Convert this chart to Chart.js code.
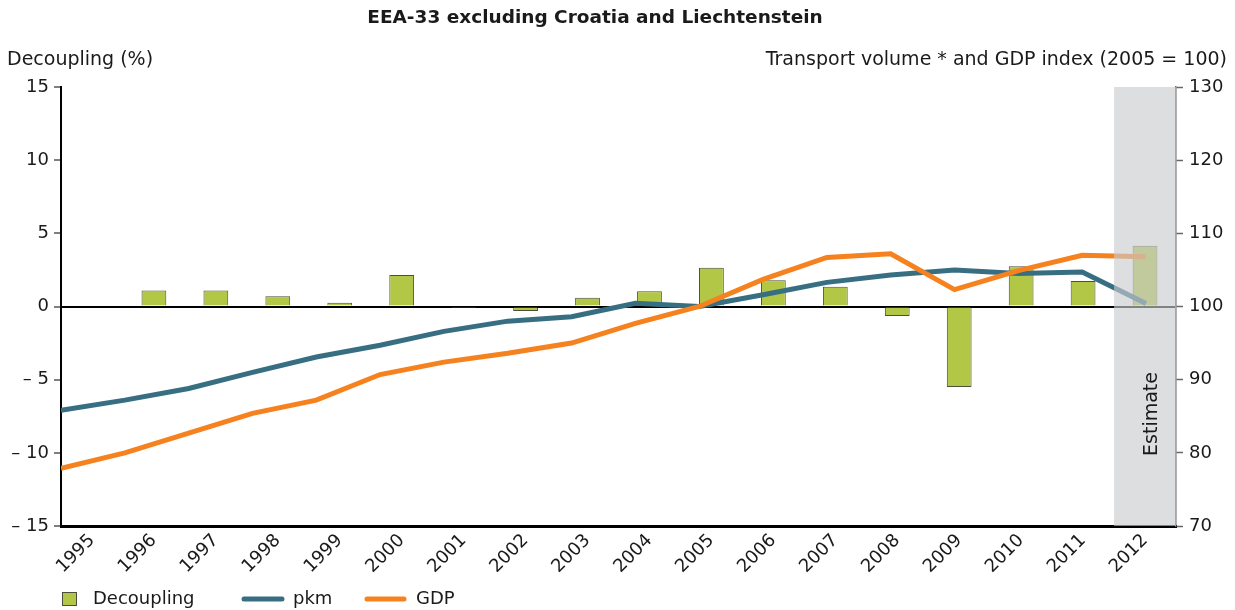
<!DOCTYPE html>
<html>
<head>
<meta charset="utf-8">
<script src="https://cdn.jsdelivr.net/npm/chart.js@4.4.1/dist/chart.umd.min.js"></script>
<style>
  html, body { margin: 0; padding: 0; background: #fff; }
  #wrap { width: 1235px; height: 610px; }
</style>
</head>
<body>
<div id="wrap"><canvas id="decouplingChart" width="1235" height="610"></canvas></div>
<script>
// years on the x axis, 2012 is an estimate
const years = [1995, 1996, 1997, 1998, 1999, 2000, 2001, 2002, 2003, 2004,
               2005, 2006, 2007, 2008, 2009, 2010, 2011, 2012];
// decoupling (%) - left axis
const decoupling = [null, 1.1, 1.1, 0.7, 0.25, 2.15, -0.1, -0.3, 0.6, 1.05,
                    2.65, 1.8, 1.35, -0.65, -5.5, 2.75, 1.75, 4.15];
// index 2005 = 100 - right axis
const pkm = [85.8, 87.2, 88.8, 91.0, 93.1, 94.7, 96.6, 98.0, 98.6, 100.45,
             100.0, 101.6, 103.3, 104.3, 105.0, 104.5, 104.7, 100.4];
const gdp = [77.9, 80.0, 82.7, 85.4, 87.2, 90.7, 92.4, 93.6, 95.0, 97.7,
             100.0, 103.7, 106.7, 107.2, 102.3, 104.9, 107.0, 106.8];
const leftTicks = [-15, -10, -5, 0, 5, 10, 15];
const rightTicks = [70, 80, 90, 100, 110, 120, 130];
const estimateYear = 2012;

const FONT = "'DejaVu Sans', Verdana, sans-serif";
const GREEN = '#b1c745';
const TEAL = '#376e82';
const ORANGE = '#f5821f';

// gray "Estimate" band painted over the last category, plus titles and legend
const extras = {
  id: 'extras',
  afterDatasetsDraw(chart) {
    const { ctx, chartArea, scales } = chart;
    const xs = scales.x;
    const idx = years.indexOf(estimateYear);
    const half = (xs.getPixelForValue(1) - xs.getPixelForValue(0)) / 2;
    const left = xs.getPixelForValue(idx) - half;
    ctx.save();
    ctx.fillStyle = 'rgba(201,203,206,0.64)';
    ctx.fillRect(left, chartArea.top, chartArea.right - left, chartArea.bottom - chartArea.top);
    ctx.translate(left + (chartArea.right - left) / 2 + 7, 414);
    ctx.rotate(-Math.PI / 2);
    ctx.fillStyle = '#1a1a1a';
    ctx.font = '19px ' + FONT;
    ctx.textAlign = 'center';
    ctx.textBaseline = 'middle';
    ctx.fillText('Estimate', 0, 0);
    ctx.restore();
  },
  afterDraw(chart) {
    const { ctx } = chart;
    ctx.save();
    ctx.fillStyle = '#1a1a1a';
    ctx.textBaseline = 'middle';

    ctx.font = 'bold 18.5px ' + FONT;
    ctx.textAlign = 'center';
    ctx.fillText('EEA-33 excluding Croatia and Liechtenstein', 595, 18);

    ctx.font = '19px ' + FONT;
    ctx.textAlign = 'left';
    ctx.fillText('Decoupling (%)', 7, 60);
    ctx.textAlign = 'right';
    ctx.fillText('Transport volume * and GDP index (2005 = 100)', 1227, 60);

    // legend
    const ly = 599;
    ctx.font = '18px ' + FONT;
    ctx.textAlign = 'left';
    ctx.fillStyle = GREEN;
    ctx.fillRect(62, ly - 7, 15, 14);
    ctx.strokeStyle = '#4d4d3a';
    ctx.lineWidth = 1;
    ctx.strokeRect(62.5, ly - 6.5, 14, 13);
    ctx.fillStyle = '#1a1a1a';
    ctx.fillText(chart.data.datasets[0].label, 93, ly);

    ctx.lineCap = 'round';
    ctx.lineWidth = 5;
    ctx.strokeStyle = TEAL;
    ctx.beginPath(); ctx.moveTo(244, ly); ctx.lineTo(282, ly); ctx.stroke();
    ctx.fillText(chart.data.datasets[1].label, 293, ly);

    ctx.strokeStyle = ORANGE;
    ctx.beginPath(); ctx.moveTo(367, ly); ctx.lineTo(404, ly); ctx.stroke();
    ctx.fillText(chart.data.datasets[2].label, 416, ly);
    ctx.restore();
  }
};

const ctx = document.getElementById('decouplingChart').getContext('2d');

const chart = new Chart(ctx, {
  type: 'bar',
  data: {
    labels: years.map(String),
    datasets: [
      {
        label: 'Decoupling',
        data: decoupling,
        backgroundColor: GREEN,
        borderColor: '#4d4d3a',
        borderWidth: 1,
        categoryPercentage: 1,
        barPercentage: 0.4,
        grouped: false,
        yAxisID: 'y',
        xAxisID: 'x',
        order: 2
      },
      {
        type: 'line',
        label: 'pkm',
        data: years.map((y, i) => ({ x: y, y: pkm[i] })),
        borderColor: TEAL,
        borderWidth: 5,
        pointRadius: 0,
        tension: 0,
        yAxisID: 'y2',
        xAxisID: 'xl',
        order: 1
      },
      {
        type: 'line',
        label: 'GDP',
        data: years.map((y, i) => ({ x: y, y: gdp[i] })),
        borderColor: ORANGE,
        borderWidth: 5,
        pointRadius: 0,
        tension: 0,
        yAxisID: 'y2',
        xAxisID: 'xl',
        order: 0
      }
    ]
  },
  options: {
    responsive: false,
    animation: false,
    layout: { padding: { top: 87, left: 0, right: 0, bottom: 0 } },
    plugins: {
      legend: { display: false },
      tooltip: { enabled: false },
      title: { display: false }
    },
    scales: {
      x: {
        type: 'category',
        offset: true,
        afterFit: s => { s.height = 84; },
        grid: { display: false, drawTicks: false },
        border: { display: true, color: '#000', width: 3 },
        ticks: {
          color: '#1a1a1a',
          font: { family: FONT, size: 18 },
          minRotation: 45,
          maxRotation: 45,
          padding: 4,
          autoSkip: false
        }
      },
      xl: {
        type: 'linear',
        display: false,
        offset: false,
        grid: { offset: false },
        min: 1995,
        max: 2012.47
      },
      y: {
        position: 'left',
        min: -15,
        max: 15,
        afterFit: s => { s.width = 61; },
        afterBuildTicks: s => { s.ticks = leftTicks.map(v => ({ value: v })); },
        grid: {
          drawOnChartArea: true,
          color: c => (c.tick && c.tick.value === 0 ? '#000' : 'rgba(0,0,0,0)'),
          lineWidth: 2,
          tickColor: '#000',
          tickLength: 7,
          tickWidth: 1
        },
        border: { display: true, color: '#000', width: 2 },
        ticks: {
          color: '#1a1a1a',
          font: { family: FONT, size: 18 },
          padding: 5,
          callback: v => (v < 0 ? '\u2013 ' + Math.abs(v) : String(v))
        }
      },
      y2: {
        position: 'right',
        min: 70,
        max: 130,
        afterFit: s => { s.width = 59; },
        afterBuildTicks: s => { s.ticks = rightTicks.map(v => ({ value: v })); },
        grid: {
          drawOnChartArea: false,
          tickColor: '#666',
          tickLength: 7,
          tickWidth: 1.5
        },
        border: { display: true, color: '#666', width: 1.5 },
        ticks: {
          color: '#1a1a1a',
          font: { family: FONT, size: 18 },
          padding: 6
        }
      }
    }
  },
  plugins: [extras]
});
</script>
</body>
</html>
